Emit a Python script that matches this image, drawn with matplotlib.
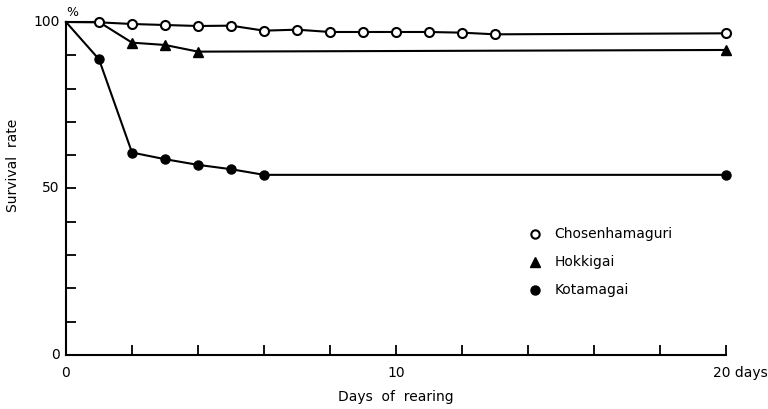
import matplotlib.pyplot as plt
from matplotlib.ticker import MultipleLocator

# survival of three clam species over 20 days of rearing
days_chosen = [0, 1, 2, 3, 4, 5, 6, 7, 8, 9, 10, 11, 12, 13, 20]
rate_chosen = [100, 99.9, 99.4, 99.1, 98.8, 98.9, 97.4, 97.7, 97.0, 97.0, 97.0, 97.0, 96.8, 96.3, 96.6]

days_hokki = [0, 1, 2, 3, 4, 20]
rate_hokki = [100, 100, 93.8, 93.1, 91.1, 91.6]

days_kota = [0, 1, 2, 3, 4, 5, 6, 20]
rate_kota = [100, 88.8, 60.8, 58.8, 57.1, 55.8, 54.1, 54.1]

plt.rcParams['font.family'] = 'DejaVu Sans'
fig = plt.figure(figsize=(7.68, 4.09), dpi=100)
ax = fig.add_axes([66/768, 1-355/409, 660/768, 333/409])

lw = 1.5
ax.plot(days_chosen, rate_chosen, color='black', lw=lw, marker='o', ms=6.5,
        mfc='white', mec='black', mew=1.5, markevery=list(range(1, len(days_chosen))),
        clip_on=False, zorder=4)
ax.plot(days_hokki, rate_hokki, color='black', lw=lw, marker='^', ms=7,
        mfc='black', mec='black', markevery=list(range(2, len(days_hokki))),
        clip_on=False, zorder=3)
ax.plot(days_kota, rate_kota, color='black', lw=lw, marker='o', ms=6.5,
        mfc='black', mec='black', markevery=list(range(1, len(days_kota))),
        clip_on=False, zorder=3)

ax.set_xlim(0, 20)
ax.set_ylim(0, 100)
for s in ['top', 'right']:
    ax.spines[s].set_visible(False)
for s in ['left', 'bottom']:
    ax.spines[s].set_linewidth(1.5)

ax.xaxis.set_major_locator(MultipleLocator(2))
ax.yaxis.set_major_locator(MultipleLocator(10))
ax.set_xticklabels([])
ax.set_yticklabels([])
ax.tick_params(direction='in', length=7, width=1.3)

fs = 10
# only a few ticks carry labels
for v in [0, 50, 100]:
    ax.text(-0.2, v, str(v), ha='right', va='center', fontsize=fs)
for v in [0, 10]:
    ax.text(v, -5.3, str(v), ha='center', va='center', fontsize=fs)
ax.text(19.6, -5.3, '20 days', ha='left', va='center', fontsize=fs)
ax.text(0.2, 103, '%', ha='center', va='center', fontsize=9)

ax.text(10, -12.5, 'Days  of  rearing', ha='center', va='center', fontsize=fs)
ax.text(-1.6, 57, 'Survival  rate', ha='center', va='center', rotation=90, fontsize=fs)

# legend drawn by hand
leg_y = [36.3, 27.9, 19.5]
ax.plot(14.2, leg_y[0], marker='o', ms=6, mfc='white', mec='black', mew=1.5)
ax.plot(14.2, leg_y[1], marker='^', ms=7, mfc='black', mec='black')
ax.plot(14.2, leg_y[2], marker='o', ms=6.5, mfc='black', mec='black')
for y, name in zip(leg_y, ['Chosenhamaguri', 'Hokkigai', 'Kotamagai']):
    ax.text(14.8, y, name, ha='left', va='center', fontsize=fs)

fig.savefig('out.png', dpi=100)
